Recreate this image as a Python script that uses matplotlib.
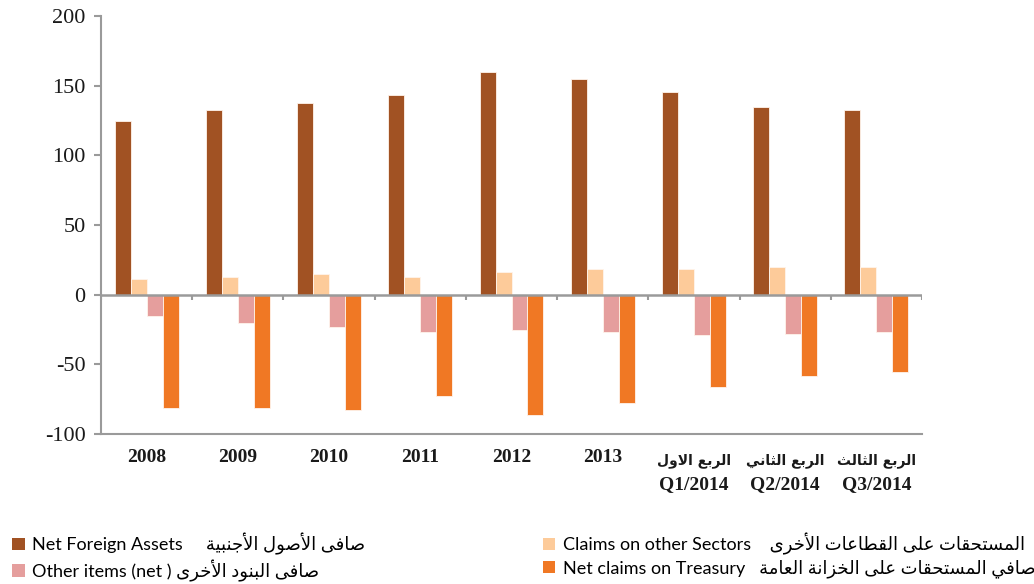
import numpy as np
import matplotlib
matplotlib.use("Agg")
import matplotlib.pyplot as plt
from matplotlib.patches import Patch

# values
years = ["2008", "2009", "2010", "2011", "2012", "2013",
         "Q1/2014", "Q2/2014", "Q3/2014"]
quarter_ar = {"Q1/2014": "الربع الاول", "Q2/2014": "الربع الثاني",
              "Q3/2014": "الربع الثالث"}
net_foreign_assets = [125, 132.5, 137.5, 143.5, 159.5, 155, 145.5, 135, 132.5]
claims_other_sectors = [11, 12.5, 14.5, 13, 16.5, 18.5, 18.5, 20, 20]
other_items = [-15.5, -20.5, -23.5, -26.5, -25.5, -27, -29, -28, -26.5]
net_claims_treasury = [-81, -81, -82.5, -72.5, -86.5, -77.5, -66.5, -58.5, -55.5]

series_en = ["Net Foreign Assets", "Claims on other Sectors",
             "Other items (net )", "Net claims on Treasury"]
series_ar = ["صافى الأصول الأجنبية", "المستحقات على القطاعات الأخرى",
             "صافى البنود الأخرى", "صافي المستحقات على الخزانة العامة"]
colors = ["#A15223", "#FDCB9A", "#E59E9D", "#F07824"]

# matplotlib has no Arabic shaping: map letters to presentation forms
# (isolated, final[, initial, medial]) and lay them out right-to-left.
FORMS = {
    "ا": (0xFE8D, 0xFE8E), "أ": (0xFE83, 0xFE84), "ة": (0xFE93, 0xFE94),
    "د": (0xFEA9, 0xFEAA), "ر": (0xFEAD, 0xFEAE), "ز": (0xFEAF, 0xFEB0),
    "و": (0xFEED, 0xFEEE), "ى": (0xFEEF, 0xFEF0),
    "لا": (0xFEFB, 0xFEFC), "لأ": (0xFEF7, 0xFEF8),
    "ب": (0xFE8F, 0xFE90, 0xFE91, 0xFE92), "ت": (0xFE95, 0xFE96, 0xFE97, 0xFE98),
    "ث": (0xFE99, 0xFE9A, 0xFE9B, 0xFE9C), "ج": (0xFE9D, 0xFE9E, 0xFE9F, 0xFEA0),
    "ح": (0xFEA1, 0xFEA2, 0xFEA3, 0xFEA4), "خ": (0xFEA5, 0xFEA6, 0xFEA7, 0xFEA8),
    "س": (0xFEB1, 0xFEB2, 0xFEB3, 0xFEB4), "ص": (0xFEB9, 0xFEBA, 0xFEBB, 0xFEBC),
    "ط": (0xFEC1, 0xFEC2, 0xFEC3, 0xFEC4), "ع": (0xFEC9, 0xFECA, 0xFECB, 0xFECC),
    "ف": (0xFED1, 0xFED2, 0xFED3, 0xFED4), "ق": (0xFED5, 0xFED6, 0xFED7, 0xFED8),
    "ل": (0xFEDD, 0xFEDE, 0xFEDF, 0xFEE0), "م": (0xFEE1, 0xFEE2, 0xFEE3, 0xFEE4),
    "ن": (0xFEE5, 0xFEE6, 0xFEE7, 0xFEE8), "ي": (0xFEF1, 0xFEF2, 0xFEF3, 0xFEF4),
}


def shape(text):
    out = []
    for word in text.split(" "):
        toks, i = [], 0
        while i < len(word):
            if word[i] == "ل" and i + 1 < len(word) and word[i + 1] in "اأ":
                toks.append(word[i:i + 2])
                i += 2
            else:
                toks.append(word[i])
                i += 1
        chars = []
        for j, t in enumerate(toks):
            f = FORMS.get(t)
            if f is None:
                chars.append(t)
                continue
            prev = j > 0 and len(FORMS.get(toks[j - 1], ())) == 4
            nxt = len(f) == 4 and j < len(toks) - 1
            k = 3 if (prev and nxt) else 1 if prev else 2 if nxt else 0
            chars.append(chr(f[k]))
        out.append("".join(chars))
    return " ".join(out)[::-1]


plt.rcParams["font.family"] = ["Liberation Serif", "DejaVu Sans"]
plt.rcParams["axes.unicode_minus"] = False

grey = "#9A9A9A"
ink = "#1A1A1A"
fig = plt.figure(figsize=(10.34, 5.84), dpi=100)
ax = fig.add_axes([0.0977, 0.2568, 0.794, 0.7158])

x = np.arange(len(years))
w = 0.175
data = [net_foreign_assets, claims_other_sectors, other_items, net_claims_treasury]
for i, (vals, c) in enumerate(zip(data, colors)):
    ax.bar(x + (i - 1.5) * w, vals, w, color=c, edgecolor="#FFF4EC",
           linewidth=0.6, zorder=2)

ax.set_xlim(-0.5, len(years) - 0.5)
ax.set_ylim(-100, 200)
ax.set_yticks(np.arange(-100, 201, 50))

# zero line with category-boundary ticks
ax.axhline(0, color=grey, lw=1.8, zorder=3)
ax.vlines(np.arange(-0.5, len(years)), -3.8, 0, color=grey, lw=1.5, zorder=3)

for s in ["top", "right"]:
    ax.spines[s].set_visible(False)
for s in ["left", "bottom"]:
    ax.spines[s].set_color(grey)
    ax.spines[s].set_linewidth(1.5)

ax.tick_params(axis="y", direction="out", length=5, width=1.5, color=grey,
               labelsize=16, labelcolor=ink, pad=6)

# years as tick labels; quarters as two stacked texts (Arabic, then code)
ax.set_xticks(x)
ax.set_xticklabels(["" if y in quarter_ar else y for y in years],
                   fontsize=14, fontweight="bold", color=ink, va="top")
ax.tick_params(axis="x", length=0, pad=11)
xt = ax.get_xaxis_transform()
for xi, y in zip(x, years):
    if y in quarter_ar:
        ax.annotate(shape(quarter_ar[y]), xy=(xi, 0), xycoords=xt,
                    xytext=(0, -19), textcoords="offset points",
                    ha="center", va="center", fontsize=10, fontweight="bold",
                    color=ink, family="DejaVu Sans")
        ax.annotate(y, xy=(xi, 0), xycoords=xt, xytext=(0, -36.5),
                    textcoords="offset points", ha="center", va="center",
                    fontsize=14, fontweight="bold", color=ink)

handles = [Patch(facecolor=c) for c in colors]
leg_font = {"family": ["Lato", "DejaVu Sans"], "size": 13}
gaps = ["     ", "    ", " ", "   "]
texts = [en + gap + shape(ar) for en, gap, ar in zip(series_en, gaps, series_ar)]
for idx, xpos in [((0, 2), 0.005), ((1, 3), 0.518)]:
    fig.legend([handles[k] for k in idx], [texts[k] for k in idx],
               loc="upper left", bbox_to_anchor=(xpos, 0.1), frameon=False,
               prop=leg_font, handlelength=0.7, handleheight=0.7,
               handletextpad=0.4, labelspacing=0.25, borderaxespad=0)

fig.savefig("out.png", dpi=100)
